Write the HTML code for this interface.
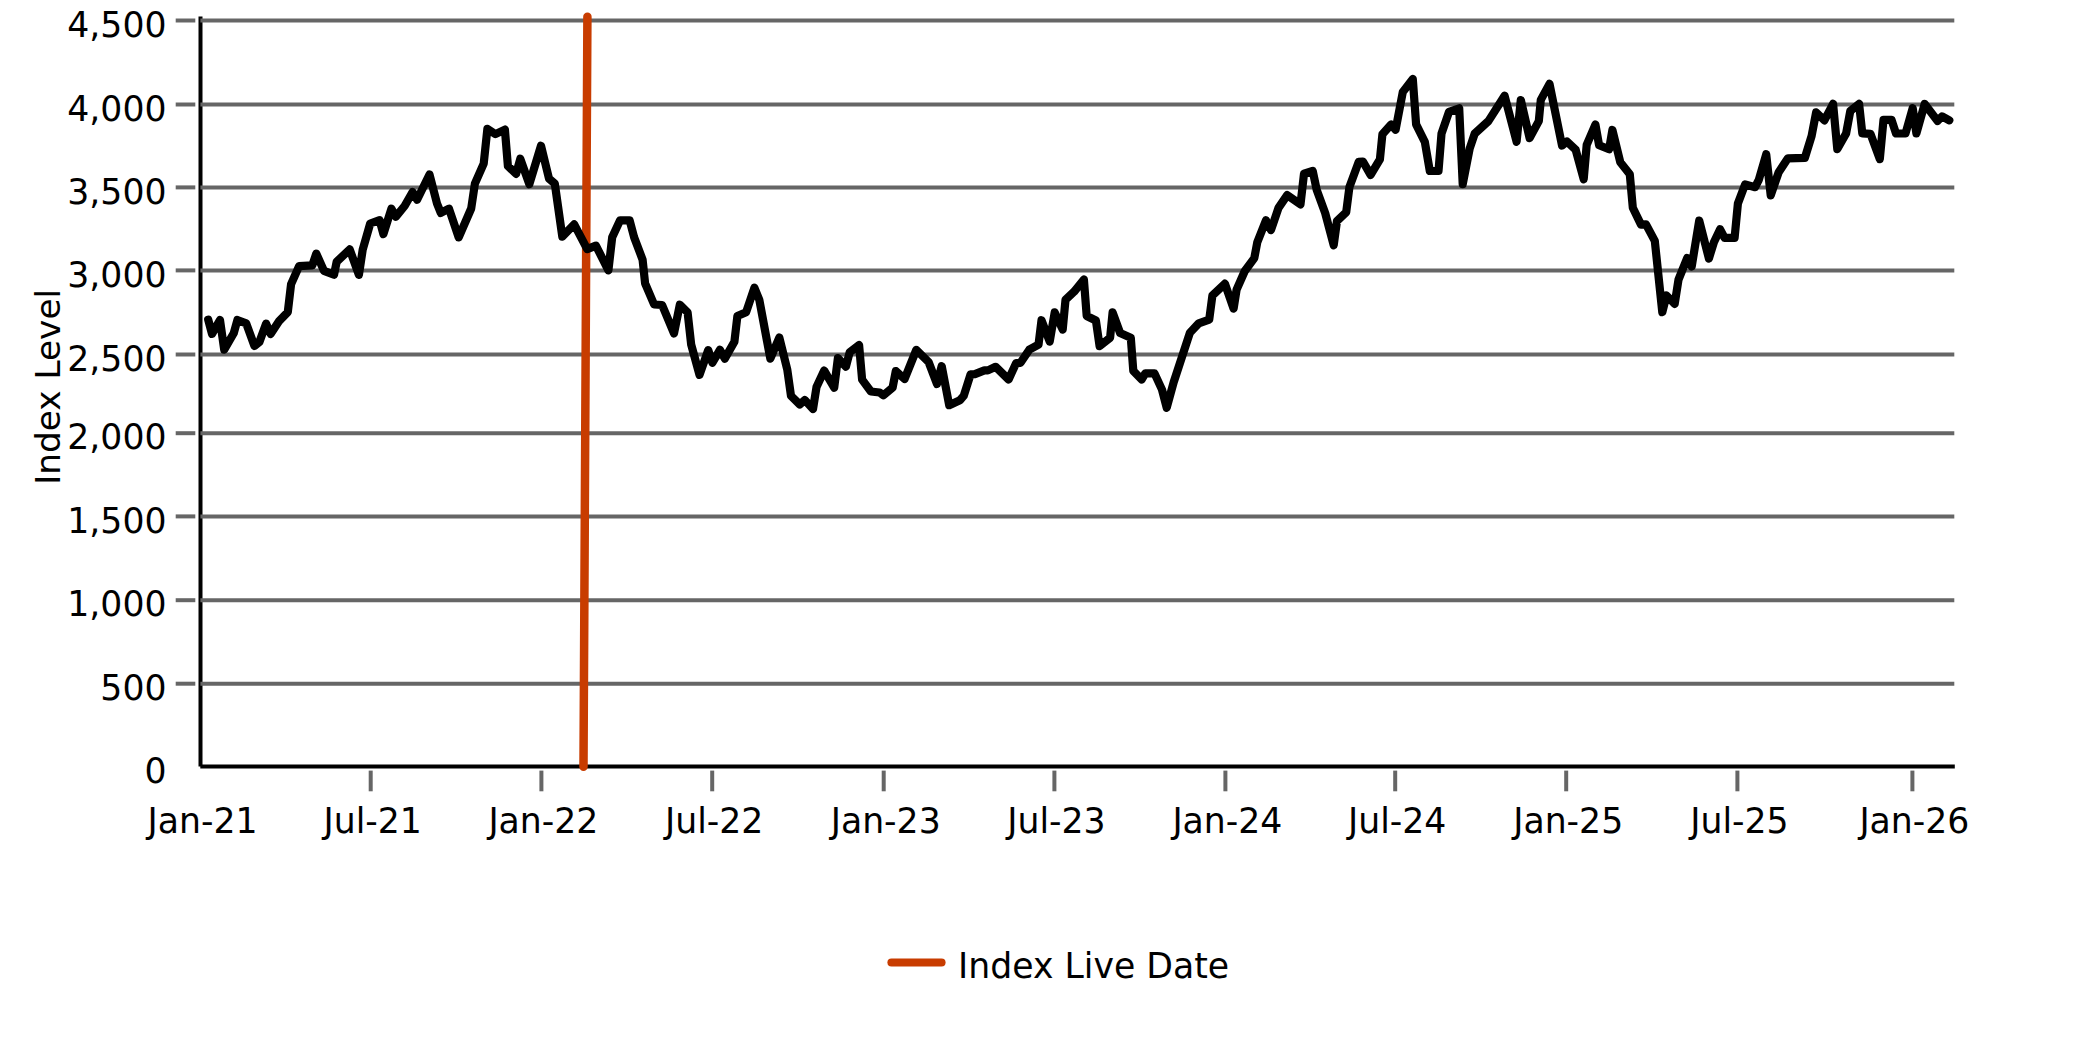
<!DOCTYPE html>
<html lang="en"><head><meta charset="utf-8"><title>Index Level</title>
<style>html,body{margin:0;padding:0;background:#fff}body{width:2083px;height:1042px;overflow:hidden}svg{display:block}text{font-family:"DejaVu Sans","Liberation Sans",sans-serif;font-size:34.67px;fill:#000}</style></head><body>
<svg width="2083" height="1042" viewBox="0 0 2083 1042">
<rect width="2083" height="1042" fill="#fff"/>
<g stroke="#000" stroke-width="4" fill="none">
<line x1="200.5" y1="16.6" x2="200.5" y2="766.6"/>
<line x1="200.3" y1="766.4" x2="1954.8" y2="766.4"/>
</g>
<g stroke="#666666" stroke-width="4" fill="none">
<line x1="175.7" y1="20.5" x2="195.3" y2="20.5"/>
<line x1="200.4" y1="20.5" x2="1954.3" y2="20.5"/>
<line x1="175.7" y1="104.5" x2="195.3" y2="104.5"/>
<line x1="200.4" y1="104.5" x2="1954.3" y2="104.5"/>
<line x1="175.7" y1="187.4" x2="195.3" y2="187.4"/>
<line x1="200.4" y1="187.4" x2="1954.3" y2="187.4"/>
<line x1="175.7" y1="270.4" x2="195.3" y2="270.4"/>
<line x1="200.4" y1="270.4" x2="1954.3" y2="270.4"/>
<line x1="175.7" y1="354.5" x2="195.3" y2="354.5"/>
<line x1="200.4" y1="354.5" x2="1954.3" y2="354.5"/>
<line x1="175.7" y1="433.2" x2="195.3" y2="433.2"/>
<line x1="200.4" y1="433.2" x2="1954.3" y2="433.2"/>
<line x1="175.7" y1="516.4" x2="195.3" y2="516.4"/>
<line x1="200.4" y1="516.4" x2="1954.3" y2="516.4"/>
<line x1="175.7" y1="600.2" x2="195.3" y2="600.2"/>
<line x1="200.4" y1="600.2" x2="1954.3" y2="600.2"/>
<line x1="175.7" y1="683.7" x2="195.3" y2="683.7"/>
<line x1="200.4" y1="683.7" x2="1954.3" y2="683.7"/>
<line x1="370.7" y1="770.6" x2="370.7" y2="791.3"/>
<line x1="541.4" y1="770.6" x2="541.4" y2="791.3"/>
<line x1="712.2" y1="770.6" x2="712.2" y2="791.3"/>
<line x1="883.7" y1="770.6" x2="883.7" y2="791.3"/>
<line x1="1054.4" y1="770.6" x2="1054.4" y2="791.3"/>
<line x1="1225.4" y1="770.6" x2="1225.4" y2="791.3"/>
<line x1="1395.2" y1="770.6" x2="1395.2" y2="791.3"/>
<line x1="1566.2" y1="770.6" x2="1566.2" y2="791.3"/>
<line x1="1737.4" y1="770.6" x2="1737.4" y2="791.3"/>
<line x1="1912.4" y1="770.6" x2="1912.4" y2="791.3"/>
</g>
<line x1="587.4" y1="16.7" x2="583.5" y2="766.7" stroke="#C83C00" stroke-width="8.5" stroke-linecap="round"/>
<polyline points="208.2,319.6 212.0,333.9 220.0,320.0 224.2,349.6 233.7,333.3 237.4,320.0 246.2,323.3 254.4,345.9 259.4,342.0 266.1,323.7 270.6,333.9 279.3,320.8 287.8,312.1 291.1,284.1 299.1,266.1 312.3,265.3 316.3,253.6 324.0,270.9 334.0,274.8 336.7,261.7 349.7,249.4 358.9,274.8 362.7,249.7 370.2,223.5 379.6,220.2 383.4,234.1 391.4,208.7 395.9,216.7 404.6,206.0 412.6,192.0 417.1,199.7 429.5,174.5 437.0,203.5 440.8,212.9 449.0,208.7 458.7,237.4 471.2,208.5 474.9,183.6 483.7,163.6 487.4,128.8 495.4,134.1 504.9,129.6 507.9,166.1 516.1,173.8 520.3,158.8 529.3,184.2 541.0,145.8 549.0,178.6 554.8,183.6 562.3,236.6 574.2,224.4 587.2,249.1 595.9,245.6 608.4,270.3 612.2,237.2 620.1,220.3 629.6,220.3 634.1,237.2 642.6,259.7 645.1,283.4 654.1,304.5 662.1,305.0 674.0,333.4 679.8,304.7 687.6,312.4 691.2,344.7 699.5,374.8 708.2,350.1 712.4,362.8 719.9,349.9 724.9,358.6 734.4,341.7 737.4,316.0 746.1,312.3 754.4,287.7 759.3,299.8 770.3,358.6 779.3,337.6 787.3,369.7 791.0,395.9 799.8,404.5 804.8,400.0 813.0,409.0 816.5,387.1 824.2,370.6 834.2,387.8 837.9,358.1 845.9,366.6 849.7,352.2 859.1,345.1 862.1,379.6 870.9,391.5 879.6,392.5 883.3,395.3 892.6,387.6 895.8,371.1 904.6,379.0 916.3,349.9 928.7,362.2 937.0,384.0 941.7,366.1 949.2,405.2 959.9,400.3 963.7,395.9 970.6,374.3 974.9,374.1 984.4,370.4 987.9,370.4 995.6,366.8 1008.6,379.5 1016.1,363.1 1020.5,362.8 1029.3,349.7 1038.5,344.7 1041.5,320.2 1049.7,341.6 1054.7,312.4 1062.7,329.6 1065.5,299.8 1074.2,291.6 1083.9,279.5 1086.7,316.0 1095.9,320.5 1099.6,346.1 1110.1,337.7 1112.6,312.4 1120.1,333.0 1130.8,337.7 1133.3,370.9 1141.6,379.5 1145.3,373.4 1154.5,373.4 1162.0,389.6 1166.7,407.7 1173.7,382.1 1189.9,332.7 1198.7,323.4 1209.2,319.7 1212.4,295.5 1224.9,283.7 1233.6,308.6 1236.6,289.7 1244.8,271.0 1254.3,258.1 1257.3,242.3 1266.0,220.3 1271.0,230.0 1278.5,207.9 1287.2,195.1 1300.5,204.3 1304.0,173.7 1312.7,170.9 1316.7,189.9 1325.2,213.1 1333.7,245.2 1337.0,220.9 1346.2,212.2 1349.4,187.2 1358.7,161.9 1362.9,161.5 1370.6,174.9 1379.9,159.3 1382.4,134.3 1391.1,124.5 1395.6,129.7 1402.8,91.9 1412.8,79.1 1416.1,124.3 1424.8,141.8 1429.8,171.0 1438.5,171.0 1441.5,133.6 1449.0,111.9 1459.2,108.3 1462.7,184.1 1469.7,148.5 1474.7,133.6 1488.4,121.1 1504.6,95.8 1516.6,141.7 1520.8,100.0 1529.6,138.0 1538.8,121.1 1540.8,99.9 1549.5,83.9 1562.0,145.5 1566.9,141.5 1575.7,149.8 1583.7,179.2 1586.7,144.9 1595.4,124.5 1599.1,145.3 1609.1,149.2 1612.4,130.0 1620.3,162.3 1629.8,174.3 1632.8,207.7 1641.0,224.6 1646.0,224.3 1654.8,240.9 1662.3,312.2 1666.5,295.5 1674.7,303.9 1678.5,279.6 1687.2,258.0 1691.7,266.5 1699.2,220.6 1708.9,258.5 1713.9,242.2 1720.1,229.3 1724.6,237.9 1734.6,237.9 1737.9,203.5 1745.1,184.4 1755.1,187.2 1758.8,179.8 1766.2,154.3 1770.7,195.3 1778.7,172.2 1787.9,158.3 1804.9,157.8 1811.6,136.0 1816.1,112.4 1824.4,120.4 1833.1,103.9 1837.3,149.1 1846.1,133.5 1850.3,111.0 1859.1,103.9 1862.3,133.4 1870.5,133.9 1879.8,159.1 1883.5,119.8 1891.5,119.8 1896.0,133.5 1905.5,133.5 1912.7,108.2 1916.4,133.4 1924.7,103.9 1937.6,120.9 1942.1,116.4 1949.3,120.3" fill="none" stroke="#000" stroke-width="8.2" stroke-linejoin="round" stroke-linecap="round"/>
<g text-anchor="end">
<text transform="translate(166.5 36.7) scale(1 1)">4,500</text>
<text transform="translate(166.5 120.7) scale(1 1)">4,000</text>
<text transform="translate(166.5 203.6) scale(1 1)">3,500</text>
<text transform="translate(166.5 286.6) scale(1 1)">3,000</text>
<text transform="translate(166.5 370.7) scale(1 1)">2,500</text>
<text transform="translate(166.5 449.4) scale(1 1)">2,000</text>
<text transform="translate(166.5 532.6) scale(1 1)">1,500</text>
<text transform="translate(166.5 616.4) scale(1 1)">1,000</text>
<text transform="translate(166.5 699.9) scale(1 1)">500</text>
<text transform="translate(166.5 782.6) scale(1 1)">0</text>
</g>
<g text-anchor="middle" style="font-size:34.4px">
<text transform="translate(202.5 832.6) scale(1 1)">Jan-21</text>
<text transform="translate(372.7 832.6) scale(1 1)">Jul-21</text>
<text transform="translate(543.4 832.6) scale(1 1)">Jan-22</text>
<text transform="translate(714.2 832.6) scale(1 1)">Jul-22</text>
<text transform="translate(885.7 832.6) scale(1 1)">Jan-23</text>
<text transform="translate(1056.4 832.6) scale(1 1)">Jul-23</text>
<text transform="translate(1227.4 832.6) scale(1 1)">Jan-24</text>
<text transform="translate(1397.2 832.6) scale(1 1)">Jul-24</text>
<text transform="translate(1568.2 832.6) scale(1 1)">Jan-25</text>
<text transform="translate(1739.4 832.6) scale(1 1)">Jul-25</text>
<text transform="translate(1914.4 832.6) scale(1 1)">Jan-26</text>
</g>
<text text-anchor="middle" style="font-size:34.3px" transform="translate(59.8 386.9) rotate(-90)">Index Level</text>
<line x1="891.5" y1="962.5" x2="941.5" y2="962.5" stroke="#C83C00" stroke-width="8.2" stroke-linecap="round"/>
<text transform="translate(958.1 977.8) scale(1 1)">Index Live Date</text>
</svg></body></html>
